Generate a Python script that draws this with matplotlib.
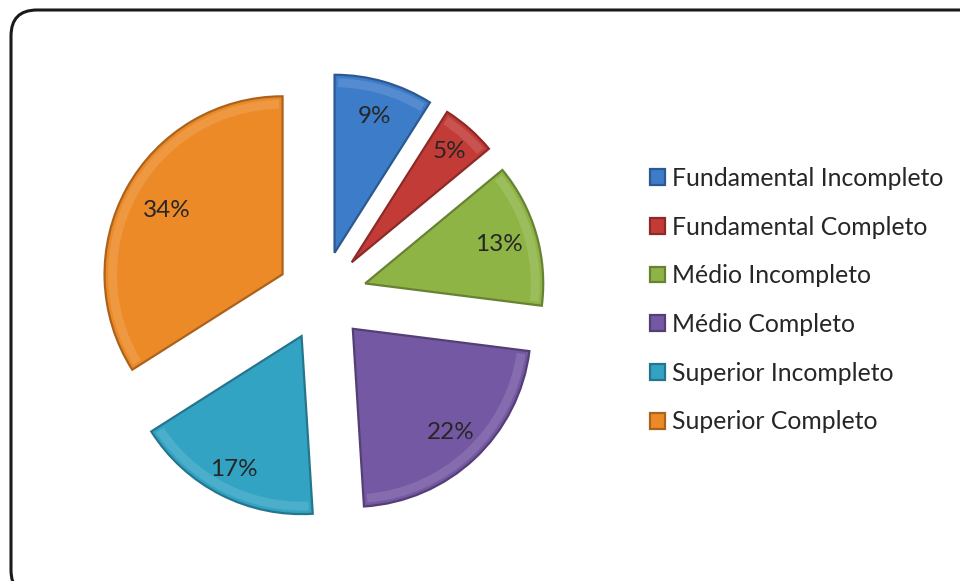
import numpy as np
import matplotlib.pyplot as plt
import matplotlib.colors as mcolors
from matplotlib.patches import FancyBboxPatch, Wedge

# Escolaridade
labels = ["Fundamental Incompleto", "Fundamental Completo", "Médio Incompleto",
          "Médio Completo", "Superior Incompleto", "Superior Completo"]
pct = [9, 5, 13, 22, 17, 34]
colors = ["#3d7cc9", "#c23b37", "#8fb446", "#7558a3", "#33a3c4", "#ec8a28"]

W, H = 960, 581
R_PX = 178          # pie radius in pixels
CX, CY = 322, 296   # pie centre in pixels (from top-left)
label_r = [0.80, 0.83, 0.78, 0.80, 0.84, 0.74]  # distance of % labels from each slice tip

fig = plt.figure(figsize=(W / 100, H / 100), dpi=100)
fig.patch.set_facecolor("white")

# rounded frame around the chart area
frame = FancyBboxPatch((11, H - 596), 980, 586, boxstyle="round,pad=0,rounding_size=26",
                       transform=None, facecolor="none", edgecolor="#1a1a1a", linewidth=2.2)
fig.patches.append(frame)

ax = fig.add_axes([0, 0, 1, 1])

wedges, texts, autotexts = ax.pie(
    pct, colors=colors, startangle=90, counterclock=False,
    explode=[45 / R_PX] * len(pct), autopct="%d%%", pctdistance=0.8,
    wedgeprops=dict(linewidth=1.6),
    textprops=dict(fontsize=17.5, color="#262626", family="Lato"))

ax.set_aspect("equal")
ax.set_xlim(-CX / R_PX, (W - CX) / R_PX)
ax.set_ylim(-(H - CY) / R_PX, CY / R_PX)
ax.axis("off")

# darker rim + light inner highlight for a bevelled look
for w, c, t, lr in zip(wedges, colors, autotexts, label_r):
    rgb = mcolors.to_rgb(c)
    dark = tuple(v * 0.72 for v in rgb)
    light = tuple(v + (1 - v) * 0.35 for v in rgb)
    w.set_edgecolor(dark)
    cx, cy = w.center
    hl = Wedge((cx, cy), w.r - 0.02, w.theta1 + 1.2, w.theta2 - 1.2, width=0.05,
               facecolor=light, edgecolor="none", alpha=0.35, zorder=w.get_zorder() + 0.1)
    ax.add_patch(hl)
    mid = np.deg2rad((w.theta1 + w.theta2) / 2)
    t.set_position((cx + lr * np.cos(mid), cy + lr * np.sin(mid)))
    t.set_zorder(5)

leg = ax.legend(wedges, labels, loc="upper left", bbox_to_anchor=(640 / W, 1 - 157 / H),
                bbox_transform=fig.transFigure, frameon=False,
                handlelength=0.6, handleheight=0.6, handletextpad=0.3,
                labelspacing=1.04, borderaxespad=0,
                prop=dict(family="Lato", size=17.8))
for t in leg.get_texts():
    t.set_color("#262626")

fig.savefig("out.png", dpi=100, facecolor="white")
